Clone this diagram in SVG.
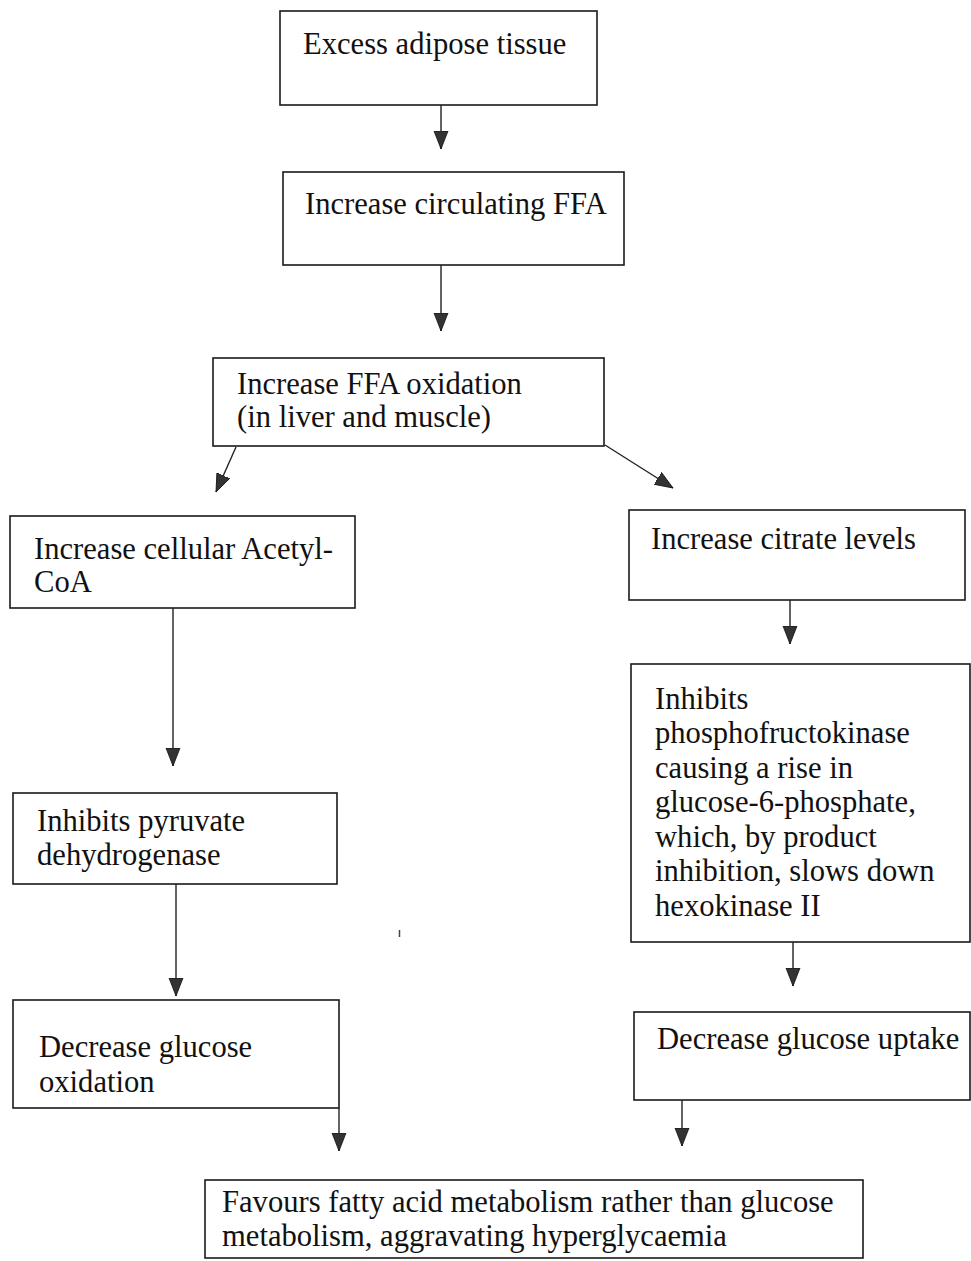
<svg xmlns="http://www.w3.org/2000/svg" width="971" height="1261" viewBox="0 0 971 1261">
<style>
  .box { fill: #fff; stroke: #1a1a1a; stroke-width: 1.6; }
  .t { font-family: "Liberation Serif", "Times New Roman", serif; font-size: 30.6px; fill: #111; }
  .c { stroke: #222; stroke-width: 1.4; fill: none; marker-end: url(#ah); }
</style>
<defs>
  <marker id="ah" markerUnits="userSpaceOnUse" markerWidth="20" markerHeight="16" viewBox="0 0 20 16" refX="18" refY="8" orient="auto">
    <path d="M0,1 L18,8 L0,15 Z" fill="#333" stroke="#111" stroke-width="0.8"/>
  </marker>
</defs>
<rect width="971" height="1261" fill="#fff"/>

<g id="n1"><rect class="box" x="280" y="11" width="317" height="94"/><text class="t" x="303" y="54">Excess adipose tissue</text></g>
<g id="n2"><rect class="box" x="283" y="172" width="341" height="93"/><text class="t" x="305" y="214">Increase circulating FFA</text></g>
<g id="n3"><rect class="box" x="213" y="358" width="391" height="88"/><text class="t" x="237" y="394">Increase FFA oxidation</text><text class="t" x="237" y="427">(in liver and muscle)</text></g>
<g id="n4"><rect class="box" x="10" y="516" width="345" height="92"/><text class="t" x="34" y="559">Increase cellular Acetyl-</text><text class="t" x="34" y="592">CoA</text></g>
<g id="n5"><rect class="box" x="629" y="510" width="336" height="90"/><text class="t" x="651" y="549">Increase citrate levels</text></g>
<g id="n6"><rect class="box" x="631" y="664" width="339" height="278"/>
  <text class="t" x="655" y="709">Inhibits</text>
  <text class="t" x="655" y="743">phosphofructokinase</text>
  <text class="t" x="655" y="778">causing a rise in</text>
  <text class="t" x="655" y="812">glucose-6-phosphate,</text>
  <text class="t" x="655" y="847">which, by product</text>
  <text class="t" x="655" y="881">inhibition, slows down</text>
  <text class="t" x="655" y="916">hexokinase II</text>
</g>
<g id="n7"><rect class="box" x="13" y="793" width="324" height="91"/><text class="t" x="37" y="831">Inhibits pyruvate</text><text class="t" x="37" y="865">dehydrogenase</text></g>
<g id="n8"><rect class="box" x="13" y="1000" width="326" height="108"/><text class="t" x="39" y="1057">Decrease glucose</text><text class="t" x="39" y="1092">oxidation</text></g>
<g id="n9"><rect class="box" x="634" y="1012" width="336" height="88"/><text class="t" x="657" y="1049">Decrease glucose uptake</text></g>
<g id="n10"><rect class="box" x="205" y="1180" width="658" height="78"/><text class="t" x="222" y="1212">Favours fatty acid metabolism rather than glucose</text><text class="t" x="222" y="1246">metabolism, aggravating hyperglycaemia</text></g>

<g id="connectors">
  <line class="c" x1="441" y1="105" x2="441" y2="149"/>
  <line class="c" x1="441" y1="265" x2="441" y2="331"/>
  <line class="c" x1="236" y1="447" x2="216" y2="492"/>
  <line class="c" x1="605" y1="445" x2="673" y2="488"/>
  <line class="c" x1="173" y1="608" x2="173" y2="766"/>
  <line class="c" x1="790" y1="600" x2="790" y2="644"/>
  <line class="c" x1="793" y1="942" x2="793" y2="986"/>
  <line class="c" x1="176" y1="884" x2="176" y2="996"/>
  <line class="c" x1="339" y1="1108" x2="339" y2="1151"/>
  <line class="c" x1="682" y1="1100" x2="682" y2="1146"/>
</g>
<line x1="399.5" y1="930" x2="399.5" y2="937" stroke="#444" stroke-width="1.5"/>
</svg>
